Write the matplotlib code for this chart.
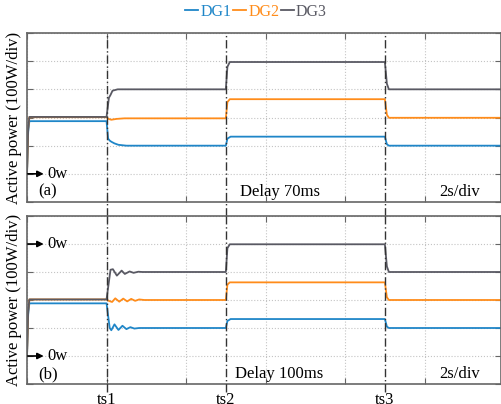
import numpy as np
import matplotlib
matplotlib.use('Agg')
import matplotlib.pyplot as plt
from matplotlib.transforms import blended_transform_factory

plt.rcParams['font.family'] = ['Liberation Serif', 'DejaVu Serif']

# Switching instants (s) and labels
ts = [2.0, 5.0, 9.0]
ts_labels = ['ts1', 'ts2', 'ts3']

# (a) Delay 70ms -- time (s) / power (W) breakpoints
t_a_dg1 = [0, 0.03, 0.06, 2.0, 2.04, 2.08, 2.12, 2.2, 2.3, 2.5, 5.0, 5.04, 5.12, 9.0, 9.05, 9.1, 11.92]
p_a_dg1 = [0, 150, 187, 187, 125, 118, 114, 108, 103, 100, 100, 125, 132, 132, 105, 100, 100]
t_a_dg2 = [0, 0.03, 0.06, 2.0, 2.05, 2.12, 2.25, 2.45, 5.0, 5.04, 5.1, 9.0, 9.05, 9.1, 11.92]
p_a_dg2 = [0, 160, 201, 201, 195, 192, 195, 197, 197, 255, 265, 265, 210, 199, 199]
t_a_dg3 = [0, 0.03, 0.06, 2.0, 2.06, 2.1, 2.15, 2.2, 2.28, 5.0, 5.04, 5.1, 9.0, 9.05, 9.1, 11.92]
p_a_dg3 = [0, 160, 202, 202, 270, 280, 295, 297, 300, 300, 380, 397, 397, 320, 300, 300]

# (b) Delay 100ms
t_b_dg1 = [0, 0.03, 0.06, 2.0, 2.08, 2.12, 2.2, 2.3, 2.4, 2.5, 2.6, 2.7, 2.82, 5.0, 5.04, 5.12, 9.0, 9.05, 9.1, 11.92]
p_b_dg1 = [0, 150, 188, 188, 100, 92, 113, 93, 108, 96, 103, 98, 100, 100, 125, 132, 132, 105, 100, 100]
t_b_dg2 = [0, 0.03, 0.06, 2.0, 2.07, 2.14, 2.22, 2.32, 2.42, 2.52, 2.62, 2.72, 2.82, 2.95, 5.0, 5.04, 5.1, 9.0, 9.05, 9.1, 11.92]
p_b_dg2 = [0, 160, 202, 202, 196, 193, 206, 194, 205, 195, 204, 197, 202, 200, 200, 255, 263, 263, 210, 200, 200]
t_b_dg3 = [0, 0.03, 0.06, 2.0, 2.1, 2.16, 2.26, 2.38, 2.46, 2.58, 2.68, 2.8, 2.9, 5.0, 5.04, 5.1, 9.0, 9.05, 9.1, 11.92]
p_b_dg3 = [0, 160, 202, 202, 308, 310, 287, 305, 293, 302, 297, 301, 300, 300, 385, 399, 399, 320, 300, 300]

names = ['DG1', 'DG2', 'DG3']
colors = ['#1f86c8', '#ff8c1a', '#595963']

fig = plt.figure(figsize=(5.01, 4.04), dpi=100)
ax_a = fig.add_axes([27 / 501, 1 - 202 / 404, 474 / 501, 169 / 404])
ax_b = fig.add_axes([27 / 501, 1 - 384 / 404, 474 / 501, 168 / 404])

panels = [
    (ax_a, [(t_a_dg1, p_a_dg1), (t_a_dg2, p_a_dg2), (t_a_dg3, p_a_dg3)], '(a)', 'Delay 70ms', [0], 0.449),
    (ax_b, [(t_b_dg1, p_b_dg1), (t_b_dg2, p_b_dg2), (t_b_dg3, p_b_dg3)], '(b)', 'Delay 100ms', [400, 0], 0.439),
]

for ax, series, tag, delay, zero_marks, delay_x in panels:
    for (t, p), c, n in zip(series, colors, names):
        ax.plot(t, p, color=c, lw=1.3, label=n, solid_joinstyle='round')
    ax.set_xlim(0, 11.92)
    ax.set_ylim(-100, 500)
    ax.set_xticks(np.arange(0, 12, 2))
    ax.set_yticks(np.arange(-100, 501, 100))
    ax.set_xticklabels([])
    ax.set_yticklabels([])
    ax.tick_params(direction='in', length=4, width=0.8, color='#666666',
                   top=True, right=True)
    ax.grid(True, linestyle=':', color='#c4c4c4', lw=0.8)
    for s in ax.spines.values():
        s.set_color('#666666')
        s.set_linewidth(1.2)
    # zero-power markers
    for z in zero_marks:
        ax.annotate('', xy=(0.42, z), xytext=(0.02, z),
                    arrowprops=dict(arrowstyle='-|>', color='k', lw=1.2,
                                    mutation_scale=9, shrinkA=0, shrinkB=0))
        ax.text(0.52, z, '0w', fontsize=12, va='center', ha='left')
    ax.text(0.023, 0.06, tag, transform=ax.transAxes, fontsize=12, va='center', ha='left')
    ax.text(delay_x, 0.06, delay, transform=ax.transAxes, fontsize=12, va='center', ha='left')
    ax.text(0.87, 0.06, '2s/div', transform=ax.transAxes, fontsize=12, va='center', ha='left')

# switching instants, dash-dot through both panels
for x in ts:
    ax_a.axvline(x, ymin=-0.085, ymax=1, color='#333333', lw=1.0,
                 linestyle=(0, (6, 2, 1, 2)), clip_on=False, zorder=3)
    ax_b.axvline(x, ymin=-0.05, ymax=1, color='#333333', lw=1.0,
                 linestyle=(0, (6, 2, 1, 2)), clip_on=False, zorder=3)
trans = blended_transform_factory(ax_b.transData, ax_b.transAxes)
for x, lab in zip(ts, ts_labels):
    ax_b.text(x, -0.05, lab, transform=trans, fontsize=12, ha='center', va='top')

# y labels
for ax in (ax_a, ax_b):
    pos = ax.get_position()
    fig.text(14 / 501, pos.y0 + pos.height / 2, 'Active power (100W/div)',
             rotation=90, fontsize=12, ha='center', va='center')

leg = fig.legend(*ax_a.get_legend_handles_labels(), loc='center',
                 bbox_to_anchor=(256 / 501, 1 - 12 / 404), ncol=3, frameon=False,
                 fontsize=11.5, handlelength=0.8, handletextpad=0.15,
                 columnspacing=0.1, borderpad=0)
for txt, c in zip(leg.get_texts(), colors):
    txt.set_color(c)

plt.savefig('out.png', dpi=100)
